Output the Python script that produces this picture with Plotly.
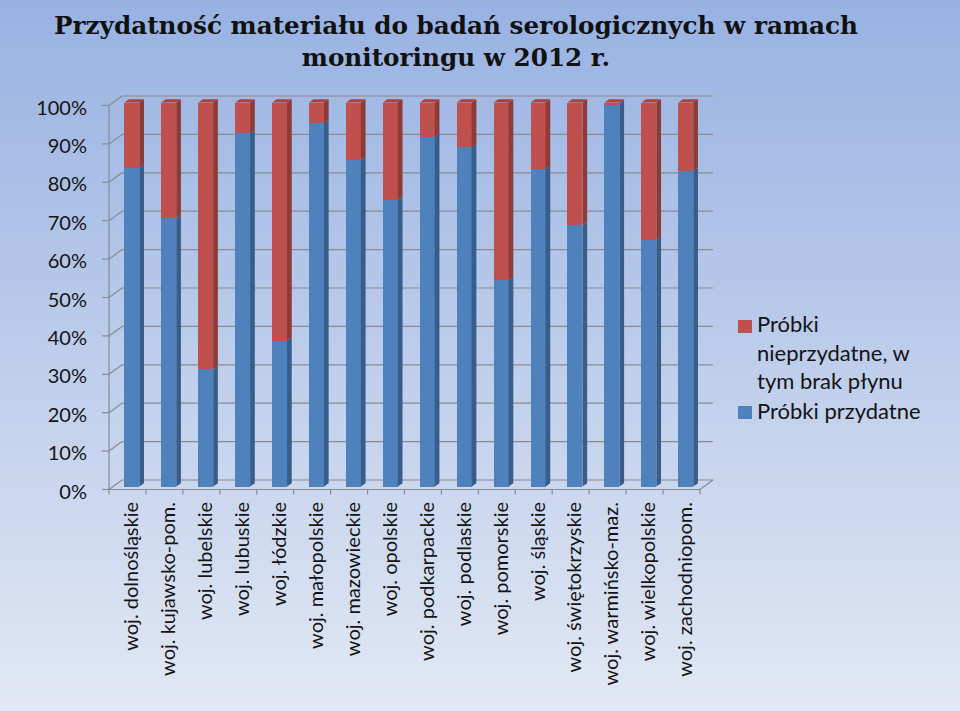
import plotly.graph_objects as go

# ---------------- data ----------------
categories = [
    "woj. dolnośląskie", "woj. kujawsko-pom.", "woj. lubelskie", "woj. lubuskie",
    "woj. łódzkie", "woj. małopolskie", "woj. mazowieckie", "woj. opolskie",
    "woj. podkarpackie", "woj. podlaskie", "woj. pomorskie", "woj. śląskie",
    "woj. świętokrzyskie", "woj. warmińsko-maz.", "woj. wielkopolskie", "woj. zachodniopom.",
]
przydatne = [82.9, 69.8, 30.5, 92.0, 38.0, 94.6, 85.0, 74.6, 91.1, 88.3, 53.8, 82.6, 68.0, 99.6, 64.2, 82.2]
nieprzydatne = [17.1, 30.2, 69.5, 8.0, 62.0, 5.4, 15.0, 25.4, 8.9, 11.7, 46.2, 17.4, 32.0, 0.4, 35.8, 17.8]
y_ticks = [0, 10, 20, 30, 40, 50, 60, 70, 80, 90, 100]
y_tick_labels = ["0%", "10%", "20%", "30%", "40%", "50%", "60%", "70%", "80%", "90%", "100%"]
series_names = ["Próbki<br>nieprzydatne, w<br>tym brak płynu", "Próbki przydatne"]
title_text = "Przydatność materiału do badań serologicznych w ramach<br>monitoringu w 2012 r."

# ---------------- geometry / style ----------------
W, H = 960, 711
L, R, T, B = 100, 244, 92, 215
pw, ph = W - L - R, H - T - B
ux = 36.93            # px per category
uy = 3.84             # px per percent
X0 = -(131.8 - L) / ux
X1 = X0 + pw / ux
Y0 = -((H - B) - 486.5) / uy
Y1 = Y0 + ph / uy

def dx(px):
    return px / ux

def dy(px):
    return px / uy

FX, FY = dx(-4.3), dy(-3.0)              # front plane (axes, floor edge)
BX, BY = FX + dx(13.0), FY + dy(9.5)     # back wall plane
DX, DY = dx(4.7), dy(3.3)                # bar depth
BW = dx(15.0)                            # bar width

BLUE, BLUE_SIDE = "#4F81BD", "#385D8A"
RED, RED_SIDE, RED_TOP = "#C0504D", "#8E3A37", "#A8433F"
GRID = "#868B95"
TXT = "#141414"
SANS = "Lato, Open Sans, sans-serif"

n = len(categories)
xs = list(range(n))

fig = go.Figure()

# front faces
fig.add_trace(go.Bar(x=xs, y=przydatne, width=BW, marker=dict(color=BLUE, line=dict(width=0)),
                     name="Próbki przydatne", showlegend=False))
fig.add_trace(go.Bar(x=xs, y=nieprzydatne, width=BW, marker=dict(color=RED, line=dict(width=0)),
                     name="Próbki nieprzydatne, w tym brak płynu", showlegend=False))

# side faces
def side_polys(lo_list, hi_list):
    px_, py_ = [], []
    for i in range(n):
        xr = xs[i] + BW / 2
        lo, hi = lo_list[i], hi_list[i]
        px_ += [xr, xr + DX, xr + DX, xr, xr, None]
        py_ += [lo, lo + DY, hi + DY, hi, lo, None]
    return px_, py_

zeros = [0] * n
tops = [przydatne[i] + nieprzydatne[i] for i in range(n)]
bx, by = side_polys(zeros, przydatne)
rx, ry = side_polys(przydatne, tops)
fig.add_trace(go.Scatter(x=bx, y=by, mode="lines", fill="toself", fillcolor=BLUE_SIDE,
                         line=dict(width=0, color=BLUE_SIDE), hoverinfo="skip", showlegend=False))
fig.add_trace(go.Scatter(x=rx, y=ry, mode="lines", fill="toself", fillcolor=RED_SIDE,
                         line=dict(width=0, color=RED_SIDE), hoverinfo="skip", showlegend=False))
# top faces
tx, ty = [], []
for i in range(n):
    xl, xr = xs[i] - BW / 2, xs[i] + BW / 2
    t = tops[i]
    tx += [xl, xl + DX, xr + DX, xr, xl, None]
    ty += [t, t + DY, t + DY, t, t, None]
fig.add_trace(go.Scatter(x=tx, y=ty, mode="lines", fill="toself", fillcolor=RED_TOP,
                         line=dict(width=0, color=RED_TOP), hoverinfo="skip", showlegend=False))

shapes = []
# background gradient (whole figure)
top_c = (152, 178, 226)
bot_c = (226, 232, 244)
NS = 90
for k in range(NS):
    f = k / (NS - 1)
    c = tuple(int(round(top_c[j] + (bot_c[j] - top_c[j]) * f)) for j in range(3))
    y_top = H - k * H / NS
    y_bot = H - (k + 1) * H / NS - 1
    shapes.append(dict(type="rect", xref="paper", yref="paper", layer="below",
                       x0=-L / pw, x1=1 + R / pw,
                       y0=(y_bot - B) / ph, y1=(y_top - B) / ph,
                       fillcolor="rgb(%d,%d,%d)" % c, line=dict(width=0)))

def seg(x0, y0, x1, y1):
    shapes.append(dict(type="line", xref="x", yref="y", layer="below",
                       x0=x0, y0=y0, x1=x1, y1=y1, line=dict(color=GRID, width=1.2)))

xl_f, xr_f = -0.5 + FX, (n - 0.5) + FX
xl_b, xr_b = -0.5 + BX, (n - 0.5) + BX
for v in y_ticks:
    seg(xl_b, v + BY, xr_b, v + BY)                 # back wall grid
    seg(xl_f - dx(7), v + FY, xl_f, v + FY)         # tick
    seg(xl_f, v + FY, xl_b, v + BY)                 # left wall line
seg(xl_f, FY, xl_f, 100 + FY)                       # front vertical axis
seg(xl_f, FY, xr_f, FY)                             # floor front edge
seg(xr_f, FY, xr_b, BY)                             # floor right edge
for k in range(n + 1):
    xb = -0.5 + k + FX
    seg(xb, FY, xb, FY - dy(5))                     # floor ticks

# manual legend
def px2paper_x(px):
    return (px - L) / pw

def px2paper_y(py):
    return ((H - B) - py) / ph

for (y0p, col) in [(320, RED), (406, BLUE)]:
    shapes.append(dict(type="rect", xref="paper", yref="paper", layer="above",
                       x0=px2paper_x(738), x1=px2paper_x(752),
                       y0=px2paper_y(y0p + 13), y1=px2paper_y(y0p),
                       fillcolor=col, line=dict(width=0)))

annotations = [
    dict(text=series_names[0], xref="paper", yref="paper", x=px2paper_x(755), y=px2paper_y(308),
         xanchor="left", yanchor="top", align="left", showarrow=False,
         font=dict(family=SANS, size=22, color=TXT)),
    dict(text=series_names[1], xref="paper", yref="paper", x=px2paper_x(755), y=px2paper_y(395),
         xanchor="left", yanchor="top", align="left", showarrow=False,
         font=dict(family=SANS, size=22, color=TXT)),
]

fig.update_layout(
    width=W, height=H,
    margin=dict(l=L, r=R, t=T, b=B, autoexpand=False),
    paper_bgcolor="#C0CFEA", plot_bgcolor="rgba(0,0,0,0)",
    barmode="stack", bargap=0,
    showlegend=False,
    title=dict(text=title_text, x=456 / W, xanchor="center", xref="container",
               y=1 - 34 / H, yanchor="top", yref="container",
               font=dict(family="DejaVu Serif, Liberation Serif, serif", size=24.7, color="#111111",
                         weight="bold")),
    xaxis=dict(range=[X0, X1], tickvals=xs, ticktext=categories, tickangle=-90,
               showgrid=False, zeroline=False, showline=False, ticks="",
               tickfont=dict(family=SANS, size=20, color=TXT),
               ticklabelstandoff=1, fixedrange=True),
    yaxis=dict(range=[Y0, Y1], tickvals=y_ticks, ticktext=y_tick_labels,
               showgrid=False, zeroline=False, showline=False, ticks="",
               tickfont=dict(family=SANS, size=20, color=TXT),
               ticklabelshift=5, ticklabelstandoff=12, fixedrange=True),
    shapes=shapes, annotations=annotations,
)

fig.write_html("out.html", config={"displayModeBar": False},
               post_script="document.body.style.margin='0';document.body.style.overflow='hidden';")
